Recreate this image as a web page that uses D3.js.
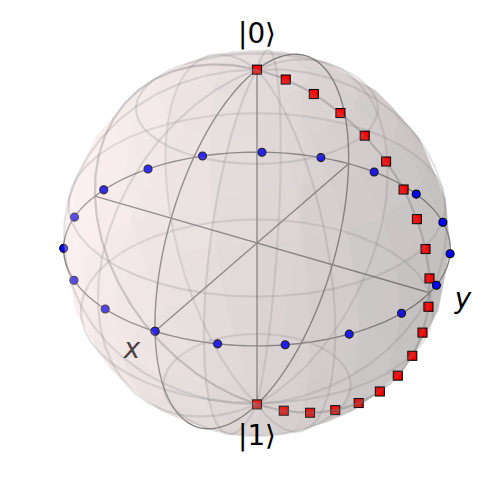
<!DOCTYPE html>
<html>
<head>
<meta charset="utf-8">
<script src="https://cdn.jsdelivr.net/npm/d3@7"></script>
<style>
  html, body { margin: 0; padding: 0; background: #fff; }
  svg { display: block; }
  text { font-family: "DejaVu Sans", sans-serif; }
</style>
</head>
<body>
<div id="chart"></div>
<script>
// Blue points, on the equator (Bloch coordinates)
const blueX = [1, .946, .789, .547, .245, -.083, -.401, -.677, -.879, -.986, -.986, -.879, -.677, -.401, -.083, .245, .547, .789, .946, 1];
const blueY = [0, .325, .614, .837, .969, .997, .916, .736, .476, .165, -.165, -.476, -.736, -.916, -.997, -.969, -.837, -.614, -.325, 0];
// Red points, on the y-z circle
const redY = [0, .165, .325, .476, .614, .736, .837, .916, .969, .997, .997, .969, .916, .837, .736, .614, .476, .325, .165, 0];
const redZ = [1, .986, .946, .879, .789, .677, .547, .401, .245, .083, -.083, -.245, -.401, -.547, -.677, -.789, -.879, -.946, -.986, -1];

const width = 500, height = 500;
const azim = -60 * Math.PI / 180, elev = 30 * Math.PI / 180, camDist = 14;

// Projected units to pixels
const sx = d3.scaleLinear().domain([-1, 1]).range([257 - 193, 257 + 193]);
const sy = d3.scaleLinear().domain([-1, 1]).range([243 + 193, 243 - 193]);

// View vectors, in matplotlib's plot coordinates
const right = [-Math.sin(azim), Math.cos(azim), 0];
const up = [-Math.sin(elev) * Math.cos(azim), -Math.sin(elev) * Math.sin(azim), Math.cos(elev)];
const fwd = [Math.cos(elev) * Math.cos(azim), Math.cos(elev) * Math.sin(azim), Math.sin(elev)];
const dot = (a, b) => a[0] * b[0] + a[1] * b[1] + a[2] * b[2];

// Bloch (x, y, z) is drawn as plot (y, -x, z)
const toPlot = p => [p[1], -p[0], p[2]];
function project(p) {
    const q = toPlot(p);
    const f = 1 / (1 - dot(q, fwd) / camDist);
    return [sx(dot(q, right) * f), sy(dot(q, up) * f)];
}
const depth = p => dot(toPlot(p), fwd);
const rad = d => d * Math.PI / 180;
// Sphere point from plot angles u (around z) and v (from +z)
const sph = (u, v) => [-Math.sin(rad(u)) * Math.sin(rad(v)), Math.cos(rad(u)) * Math.sin(rad(v)), Math.cos(rad(v))];

const svg = d3.select("#chart").append("svg").attr("width", width).attr("height", height);
const line = d3.line().x(d => project(d)[0]).y(d => project(d)[1]);

const light = [-0.6667, -0.6667, 0.3333];
const baseColor = d3.rgb("#FFDDDD");

function drawSurface(u0, u1) {
    const facets = [];
    for (let u = u0; u < u1; u += 15) {
        for (let v = 0; v < 180; v += 15) {
            const pts = [sph(u, v), sph(u + 15, v), sph(u + 15, v + 15), sph(u, v + 15)];
            const c = sph(u + 7.5, v + 7.5);
            const s = dot(toPlot(c), light);
            const k = 0.3 + 0.7 * (s + 1) / 2;
            facets.push({ pts, k, z: depth(c) });
        }
    }
    facets.sort((a, b) => a.z - b.z);
    svg.append("g").selectAll("path").data(facets).join("path")
        .attr("d", d => line(d.pts) + "Z")
        .attr("fill", d => `rgb(${baseColor.r * d.k},${baseColor.g * d.k},${baseColor.b * d.k})`)
        .attr("fill-opacity", 0.2);
}

const wireSteps = [0, 37.5, 75, 112.5, 150, 180];
function drawWires(sign) {
    const g = svg.append("g").attr("fill", "none").attr("stroke", "gray")
        .attr("stroke-opacity", 0.22).attr("stroke-width", 2.2);
    const fine = d3.range(0, 180.1, 7.5);
    // meridians
    wireSteps.forEach(w => {
        g.append("path").attr("d", line(fine.map(v => sph(sign * w, v))));
    });
    // parallels
    wireSteps.slice(1, -1).forEach(v => {
        g.append("path").attr("d", line(fine.map(u => sph(sign * u, v))));
    });
}

// Back half first: plot u from 0 to 180
drawSurface(0, 180);
drawWires(1);

// Frame circles and axes
const frame = svg.append("g").attr("fill", "none").attr("stroke", "gray").attr("stroke-width", 1.39);
const circle = d3.range(0, 360.1, 3);
frame.append("path").attr("d", line(circle.map(a => [Math.cos(rad(a)), Math.sin(rad(a)), 0])));
frame.append("path").attr("d", line(circle.map(a => [Math.cos(rad(a)), 0, Math.sin(rad(a))])));
frame.append("path").attr("d", line([[-1, 0, 0], [1, 0, 0]]));
frame.append("path").attr("d", line([[0, -1, 0], [0, 1, 0]]));
frame.append("path").attr("d", line([[0, 0, -1], [0, 0, 1]]));

// Axis label x sits under the front half
svg.append("text").attr("x", 132).attr("y", 358).attr("text-anchor", "middle")
    .attr("font-size", 27.8).attr("font-style", "italic").attr("fill", "#000").text("x");

// Points
const bluePts = blueX.map((x, i) => [x, blueY[i], 0]);
const redPts = redY.map((y, i) => [0, y, redZ[i]]);
svg.append("g").selectAll("rect").data(redPts).join("rect")
    .attr("x", d => project(d)[0] - 4.5).attr("y", d => project(d)[1] - 4.5)
    .attr("width", 9).attr("height", 9)
    .attr("fill", "#ff0000").attr("stroke", "#000").attr("stroke-width", 1.1);
svg.append("g").selectAll("circle").data(bluePts).join("circle")
    .attr("cx", d => project(d)[0]).attr("cy", d => project(d)[1]).attr("r", 4)
    .attr("fill", "#0000ff").attr("stroke", "#000").attr("stroke-width", 1.1);

// Front half: plot u from -180 to 0
drawSurface(-180, 0);
drawWires(-1);

// Labels
const labels = svg.append("g").attr("text-anchor", "middle").attr("font-size", 27.8).attr("fill", "#000");
labels.append("text").attr("x", 257).attr("y", 43).text("|0⟩");
labels.append("text").attr("x", 257).attr("y", 445).text("|1⟩");
labels.append("text").attr("x", 463).attr("y", 308).attr("font-style", "italic").text("y");
</script>
</body>
</html>
